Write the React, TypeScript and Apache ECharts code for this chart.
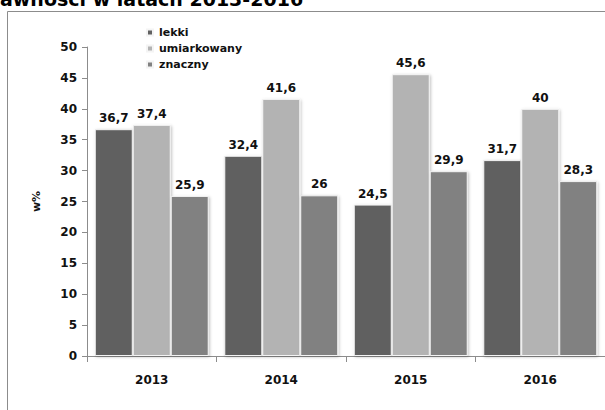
import React, { useEffect, useRef } from "react";
import * as echarts from "echarts";

const titleText = "awności w latach 2013-2016";
const years = ["2013", "2014", "2015", "2016"];
const seriesNames = ["lekki", "umiarkowany", "znaczny"];
const lekki = [36.7, 32.4, 24.5, 31.7];
const umiarkowany = [37.4, 41.6, 45.6, 40];
const znaczny = [25.9, 26, 29.9, 28.3];
const colors = ["#616161", "#b3b3b3", "#818181"];

export default function App() {
  const ref = useRef<HTMLDivElement>(null);
  useEffect(() => {
    const chart = echarts.init(ref.current!, null, { renderer: "svg" });
    const font = "DejaVu Sans";
    const mk = (name: string, data: number[], i: number) => ({
      name,
      type: "bar",
      data,
      barGap: "0%",
      barCategoryGap: "12%",
      itemStyle: {
        color: colors[i],
        borderColor: "#f4f4f4",
        borderWidth: 1,
        shadowColor: "rgba(0,0,0,0.25)",
        shadowBlur: 3,
        shadowOffsetX: 1,
        shadowOffsetY: 1,
      },
      label: {
        show: true,
        position: "top",
        distance: 5,
        color: "#111",
        fontFamily: font,
        fontWeight: "bold",
        fontSize: 12,
        formatter: (p: any) => String(p.value).replace(".", ","),
      },
    });
    chart.setOption({
      animation: false,
      textStyle: { fontFamily: font },
      grid: { left: 87, right: -3, top: 47, bottom: 54 },
      graphic: [
        {
          type: "rect",
          shape: { x: 7.5, y: 11.5, width: 700, height: 500 },
          style: { fill: "none", stroke: "#8c8c8c", lineWidth: 1 },
          silent: true,
        },
        {
          type: "text",
          x: 0,
          y: -1,
          style: {
            text: titleText,
            font: "bold 19px 'DejaVu Sans'",
            fill: "#000",
            verticalAlign: "middle",
          },
        },
      ],
      legend: {
        orient: "vertical",
        left: 141,
        top: 22,
        itemWidth: 6,
        itemHeight: 6,
        itemGap: 5,
        icon: "rect",
        data: seriesNames,
        textStyle: { fontFamily: font, fontWeight: "bold", fontSize: 11, color: "#111", padding: [0, 0, 0, 1] },
      },
      xAxis: {
        type: "category",
        data: years,
        axisLine: { lineStyle: { color: "#8c8c8c" } },
        axisTick: { show: true, length: 6, lineStyle: { color: "#8c8c8c" } },
        axisLabel: { margin: 18, color: "#111", fontWeight: "bold", fontSize: 12, fontFamily: font },
      },
      yAxis: {
        type: "value",
        min: 0,
        max: 50,
        interval: 5,
        name: "w%",
        nameLocation: "middle",
        nameRotate: 90,
        nameGap: 45,
        nameTextStyle: { color: "#111", fontWeight: "bold", fontSize: 11, fontFamily: font },
        splitLine: { show: false },
        axisLine: { show: true, lineStyle: { color: "#8c8c8c" } },
        axisTick: { show: true, length: 5, lineStyle: { color: "#8c8c8c" } },
        axisLabel: { margin: 10, color: "#111", fontWeight: "bold", fontSize: 12, fontFamily: font },
      },
      series: [mk(seriesNames[0], lekki, 0), mk(seriesNames[1], umiarkowany, 1), mk(seriesNames[2], znaczny, 2)],
    });
    return () => chart.dispose();
  }, []);
  return (
    <div
      ref={ref}
      style={{ position: "fixed", left: 0, top: 0, width: 605, height: 410, background: "#fff" }}
    />
  );
}
